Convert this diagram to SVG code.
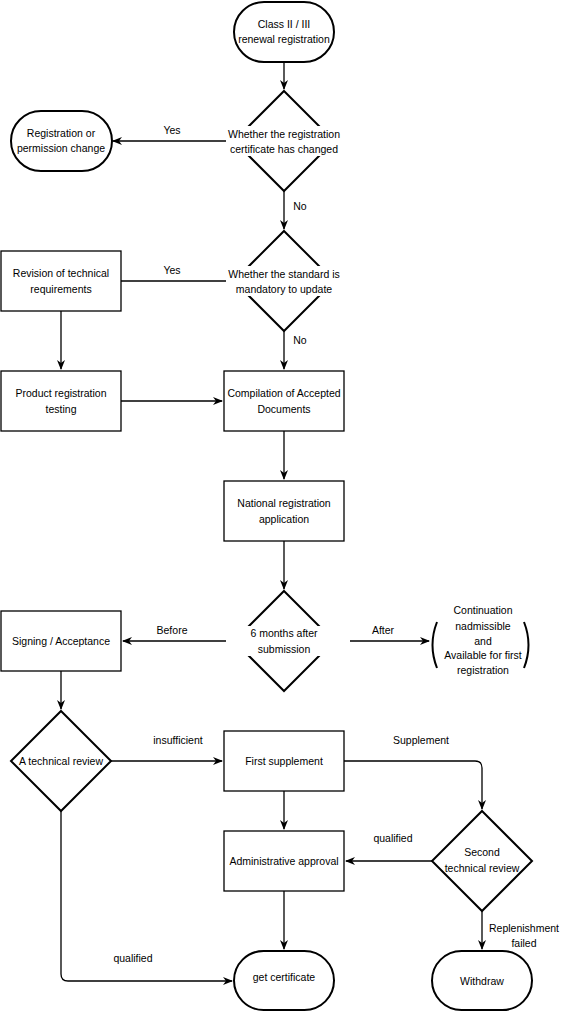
<svg xmlns="http://www.w3.org/2000/svg" width="571" height="1012" viewBox="0 0 571 1012">
<style>
text{font-family:"Liberation Sans",Arial,sans-serif;font-size:10.5px;fill:#000;text-anchor:middle;dominant-baseline:central}
.rect{fill:#fff;stroke:#000;stroke-width:1.3}
.term{fill:#fff;stroke:#000;stroke-width:2}
.dia{fill:#fff;stroke:#000;stroke-width:2}
.bg{fill:#fff;stroke:none}
.edge{fill:none;stroke:#000;stroke-width:1.3}
.brk{fill:none;stroke:#000;stroke-width:2}
</style>
<defs>
<marker id="arr" viewBox="0 0 10 8" refX="9" refY="4" markerWidth="10" markerHeight="8" markerUnits="userSpaceOnUse" orient="auto">
<path d="M0,0 L10,4 L0,8 L3,4 Z" fill="#000"/>
</marker>
</defs>
<rect width="571" height="1012" fill="#fff"/>
<g id="connectors">
<path class="edge" d="M284,62 V89" marker-end="url(#arr)"/>
<path class="edge" d="M226,141 H113" marker-end="url(#arr)"/>
<path class="edge" d="M284,191 V229" marker-end="url(#arr)"/>
<path class="edge" d="M226,281 H121"/>
<path class="edge" d="M61,311 V369" marker-end="url(#arr)"/>
<path class="edge" d="M284,331 V369" marker-end="url(#arr)"/>
<path class="edge" d="M121,401 H222" marker-end="url(#arr)"/>
<path class="edge" d="M284,431 V479" marker-end="url(#arr)"/>
<path class="edge" d="M284,541 V589" marker-end="url(#arr)"/>
<path class="edge" d="M226,641 H123" marker-end="url(#arr)"/>
<path class="edge" d="M350,641 H429" marker-end="url(#arr)"/>
<path class="edge" d="M61,671 V709" marker-end="url(#arr)"/>
<path class="edge" d="M111,761 H222" marker-end="url(#arr)"/>
<path class="edge" d="M344,761 H475 Q482,761 482,768 V809" marker-end="url(#arr)"/>
<path class="edge" d="M284,791 V829" marker-end="url(#arr)"/>
<path class="edge" d="M432,861 H346" marker-end="url(#arr)"/>
<path class="edge" d="M284,891 V949" marker-end="url(#arr)"/>
<path class="edge" d="M482,911 V949" marker-end="url(#arr)"/>
<path class="edge" d="M61,811 V974 Q61,981 68,981 H232" marker-end="url(#arr)"/>
<text x="172" y="130">Yes</text>
<text x="300" y="206">No</text>
<text x="172" y="270">Yes</text>
<text x="300" y="340">No</text>
<text x="172" y="630">Before</text>
<text x="383" y="630">After</text>
<text x="178" y="740">insufficient</text>
<text x="421" y="740">Supplement</text>
<text x="393" y="838">qualified</text>
<text x="524" y="928">Replenishment</text>
<text x="524" y="943">failed</text>
<text x="133" y="958">qualified</text>
</g>
<g id="start">
<rect class="term" x="234" y="2" width="100" height="60" rx="30" ry="30"/>
<text x="284" y="24">Class II / III</text>
<text x="284" y="39">renewal registration</text>
</g>
<g id="d1">
<path class="dia" d="M284,91 L334,141 L284,191 L234,141 Z"/>
<rect class="bg" x="226" y="126" width="116" height="30"/>
<text x="284" y="134">Whether the registration</text>
<text x="284" y="149">certificate has changed</text>
</g>
<g id="regchange">
<rect class="term" x="11" y="111" width="101" height="60" rx="30" ry="30"/>
<text x="61" y="133">Registration or</text>
<text x="61" y="148">permission change</text>
</g>
<g id="d2">
<path class="dia" d="M284,231 L334,281 L284,331 L234,281 Z"/>
<rect class="bg" x="226" y="266" width="116" height="30"/>
<text x="284" y="274">Whether the standard is</text>
<text x="284" y="289">mandatory to update</text>
</g>
<g id="revision">
<rect class="rect" x="1" y="251" width="120" height="60"/>
<text x="61" y="273">Revision of technical</text>
<text x="61" y="289">requirements</text>
</g>
<g id="testing">
<rect class="rect" x="1" y="371" width="120" height="60"/>
<text x="61" y="393">Product registration</text>
<text x="61" y="409">testing</text>
</g>
<g id="compilation">
<rect class="rect" x="224" y="371" width="120" height="60"/>
<text x="284" y="393">Compilation of Accepted</text>
<text x="284" y="409">Documents</text>
</g>
<g id="national">
<rect class="rect" x="224" y="481" width="120" height="60"/>
<text x="284" y="503">National registration</text>
<text x="284" y="519">application</text>
</g>
<g id="d3">
<path class="dia" d="M284,591 L334,641 L284,691 L234,641 Z"/>
<rect class="bg" x="226" y="626" width="116" height="30"/>
<text x="284" y="633">6 months after</text>
<text x="284" y="649">submission</text>
</g>
<g id="continuation">
<path class="brk" d="M437,622 Q428,645 437,668"/>
<path class="brk" d="M524,622 Q533,645 524,668"/>
<text x="483" y="610">Continuation</text>
<text x="483" y="626">nadmissible</text>
<text x="483" y="641">and</text>
<text x="483" y="655">Available for first</text>
<text x="483" y="670">registration</text>
</g>
<g id="signing">
<rect class="rect" x="1" y="611" width="120" height="60"/>
<text x="61" y="641">Signing / Acceptance</text>
</g>
<g id="d4">
<path class="dia" d="M61,711 L111,761 L61,811 L11,761 Z"/>
<text x="61" y="761">A technical review</text>
</g>
<g id="first">
<rect class="rect" x="224" y="731" width="120" height="60"/>
<text x="284" y="761">First supplement</text>
</g>
<g id="d5">
<path class="dia" d="M482,811 L532,861 L482,911 L432,861 Z"/>
<text x="482" y="852">Second</text>
<text x="482" y="868">technical review</text>
</g>
<g id="admin">
<rect class="rect" x="224" y="831" width="120" height="60"/>
<text x="284" y="861">Administrative approval</text>
</g>
<g id="certificate">
<rect class="term" x="234" y="951" width="100" height="59" rx="29.5" ry="29.5"/>
<text x="284" y="977">get certificate</text>
</g>
<g id="withdraw">
<rect class="term" x="432" y="951" width="100" height="59" rx="29.5" ry="29.5"/>
<text x="482" y="981">Withdraw</text>
</g>
</svg>
